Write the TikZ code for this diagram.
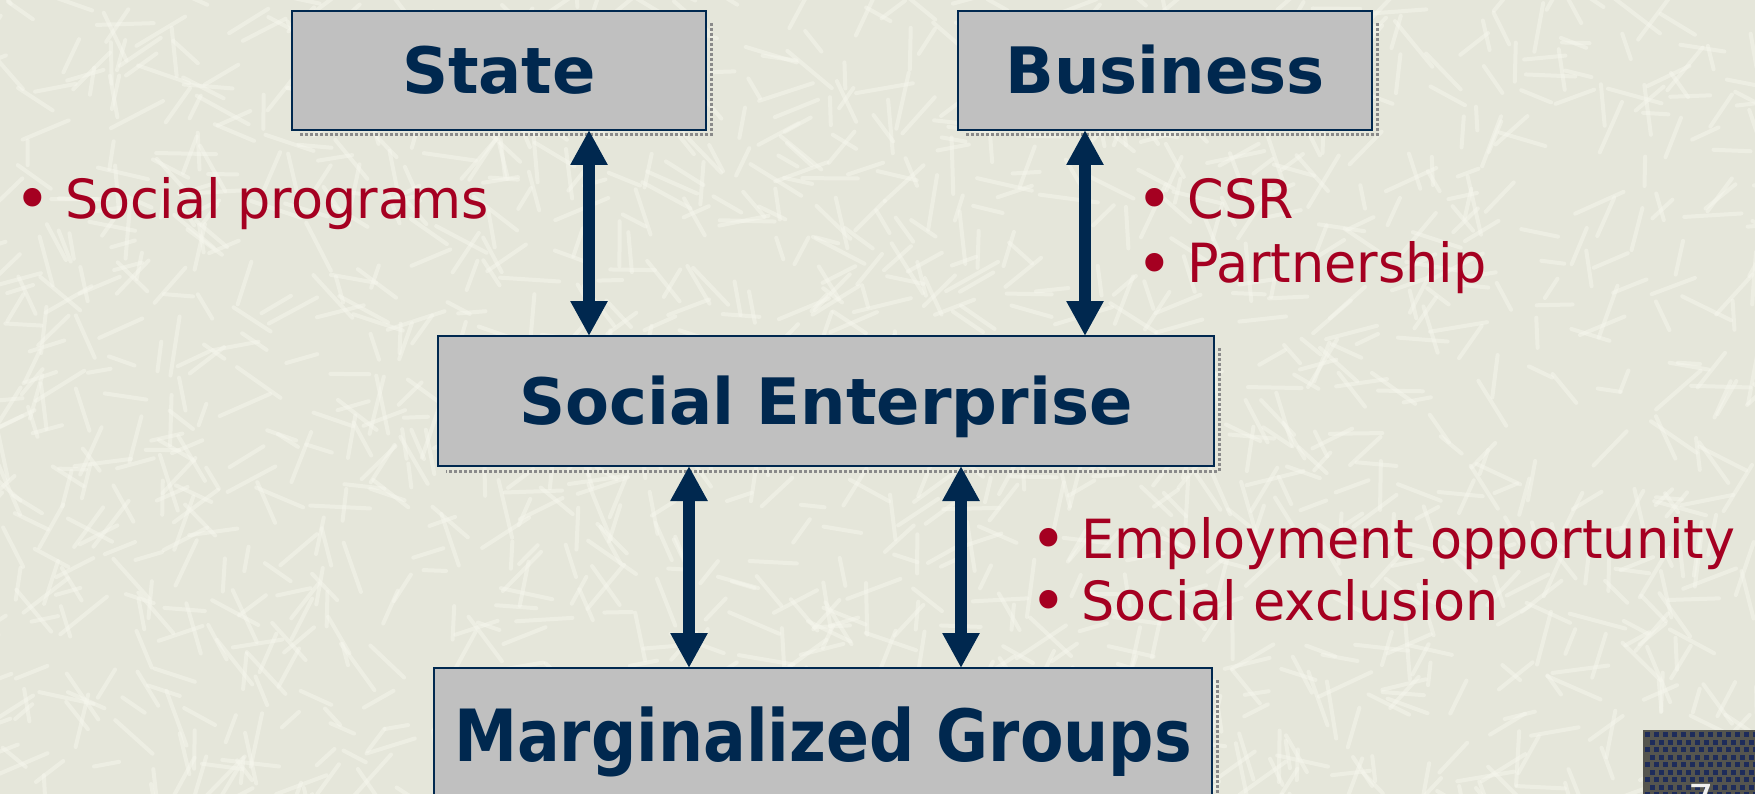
\documentclass[tikz,border=0pt]{standalone}
\usepackage{fontspec}
\setmainfont{DejaVu Sans}
\newfontfamily\notefont{DejaVu Sans}[FakeStretch=0.97]
\newfontfamily\condbold{DejaVu Sans Bold}[FakeStretch=0.88]
\usetikzlibrary{arrows.meta}

\definecolor{paper}{HTML}{E5E6DA}
\definecolor{scratch}{HTML}{F6F6ED}
\definecolor{navy}{HTML}{00284F}
\definecolor{boxgray}{HTML}{C0C0C0}
\definecolor{shade}{HTML}{8A8A8A}
\definecolor{crimson}{HTML}{A50021}
\definecolor{tagbg}{HTML}{55554F}
\definecolor{tagdot}{HTML}{1E2C5A}

\tikzset{
  box/.style={draw=navy, line width=2pt, fill=boxgray, outer sep=0pt,
    inner sep=0pt, text=navy, font=\bfseries\fontsize{64}{70}\selectfont,
    text height=46pt, text depth=0pt},
  boxshadow/.style={draw=shade, line width=3pt, dotted},
  biarrow/.style={draw=navy, line width=12pt,
    {Triangle[width=35pt,length=35pt]}-{Triangle[width=35pt,length=35pt]}},
  note/.style={text=crimson, font=\notefont\fontsize{54}{60}\selectfont,
    anchor=base west, inner sep=0pt, outer sep=0pt},
}

% larger list bullet followed by a fixed gap
\newcommand{\bul}{\raisebox{-3pt}{\fontsize{64}{64}\selectfont\textbullet}\hspace{15pt}}

\newcommand{\shadowed}[1]{%
  \draw[boxshadow] ([xshift=5pt,yshift=-12pt]#1.north east) --
    ([xshift=5pt,yshift=-5pt]#1.south east) --
    ([xshift=8pt,yshift=-5pt]#1.south west);}

\begin{document}
\begin{tikzpicture}[x=1pt,y=-1pt]
  \useasboundingbox (0,0) rectangle (1755,794);
  \clip (0,0) rectangle (1755,794);

  % paper with soft light scratches
  \fill[paper] (0,0) rectangle (1755,794);
  \pgfmathsetseed{11}
  \foreach \k in {1,...,1500}{
    \pgfmathsetmacro{\px}{rnd*1800-20}
    \pgfmathsetmacro{\py}{rnd*840-20}
    \pgfmathsetmacro{\ang}{rnd*180}
    \pgfmathsetmacro{\len}{22+rnd*38}
    \draw[scratch, line width=4pt, line cap=round, opacity=0.5]
      (\px,\py) -- ++(\ang:\len);
  }

  % boxes
  \node[box, minimum width=414pt, minimum height=119pt] (state) at (499,70.5) {State};
  \node[box, minimum width=414pt, minimum height=119pt] (business) at (1165,70.5) {Business};
  \node[box, minimum width=776pt, minimum height=130pt] (se) at (826,401) {Social Enterprise};
  \node[box, minimum width=778pt, minimum height=134pt,
    font=\condbold\fontsize{72}{78}\selectfont, text height=52pt] (mg) at (823,735) {Marginalized Groups};
  \shadowed{state}
  \shadowed{business}
  \shadowed{se}
  \shadowed{mg}

  % two-way links
  \draw[biarrow] ([xshift=90pt]state.south) -- ([xshift=-237pt]se.north);
  \draw[biarrow] ([xshift=-80pt]business.south) -- ([xshift=259pt]se.north);
  \draw[biarrow] ([xshift=-137pt]se.south) -- ([xshift=-134pt]mg.north);
  \draw[biarrow] ([xshift=135pt]se.south) -- ([xshift=138pt]mg.north);

  % notes
  \node[note] (n1) at (14,219) {\bul Social programs};
  \node[note] (n2) at (1136,219) {\bul CSR};
  \node[note] (n3) at (1136,283) {\bul Partnership};
  \node[note] (n4) at (1030,558) {\bul Employment opportunity};
  \node[note] (n5) at (1030,620) {\bul Social exclusion};

  % page number tag
  \begin{scope}
    \clip (1643,730) rectangle (1755,794);
    \fill[tagbg] (1643,730) rectangle (1755,794);
    \foreach \r in {0,...,8}{
      \foreach \c in {0,...,13}{
        \pgfmathsetmacro{\ox}{mod(\r,2)*4.5}
        \fill[tagdot] ({1645+\c*9+\ox},{732+\r*7.5}) rectangle ++(5,5);
      }
    }
  \end{scope}
  \node[anchor=north, inner sep=0pt, text=white!88!gray,
    font=\rmfamily\fontsize{40}{40}\selectfont] (pg) at (1701,784) {7};
\end{tikzpicture}
\end{document}
